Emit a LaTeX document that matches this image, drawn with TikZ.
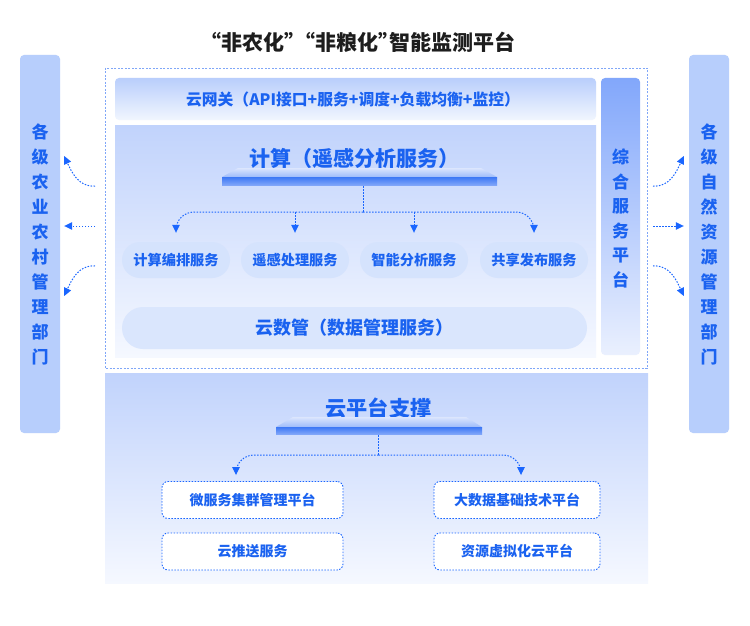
\documentclass[tikz,border=0pt]{standalone}
\usepackage{fontspec}
\setmainfont{Noto Sans CJK SC}
\usetikzlibrary{arrows.meta,calc}
\definecolor{tblue}{HTML}{1A62F0}
\definecolor{abl}{HTML}{1A66FF}
\definecolor{barc}{HTML}{B7CEFC}
\definecolor{pillc}{HTML}{D5E3FD}
\definecolor{pillb}{HTML}{DAE6FD}
\definecolor{titc}{HTML}{1D1D1D}
\definecolor{regtop}{HTML}{C1D3FC}
\definecolor{regbot}{HTML}{F5F8FF}
\definecolor{gwtop}{HTML}{B9CEFC}
\definecolor{gwbot}{HTML}{F1F6FE}
\definecolor{zhtop}{HTML}{82A7FB}
\definecolor{zhbot}{HTML}{EAF0FE}
\definecolor{boxline}{HTML}{7FA6F8}
\definecolor{trlight}{HTML}{DCE6FD}
\definecolor{trmid}{HTML}{9DBBFB}
\definecolor{trdtop}{HTML}{3D78F5}
\definecolor{trdbot}{HTML}{7FA5F9}
\tikzset{
  sidebar/.style={fill=barc, rounded corners=4pt, minimum width=40pt, minimum height=378pt, inner sep=0pt,
    text=tblue, font=\bfseries\fontsize{17}{25}\selectfont, align=center},
  pill/.style={fill=pillc, rounded corners=18pt, minimum height=36pt, minimum width=108pt, inner sep=0pt,
    text=tblue, font=\bfseries\fontsize{14.2}{15}\selectfont},
  dbox/.style={fill=white, draw=abl, line width=0.9pt, dash pattern=on 1.5pt off 1.5pt, rounded corners=6pt,
    minimum height=37pt, inner sep=0pt, text=tblue, font=\bfseries\fontsize{14}{15}\selectfont},
  conn/.style={draw=abl, line width=1pt, dash pattern=on 1.5pt off 1.5pt},
  tipd/.style={-{Triangle[length=8pt,width=7.5pt]}},
}
\begin{document}
\begin{tikzpicture}[x=1pt,y=-1pt]
\useasboundingbox (0,0) rectangle (750,626);
\fill[white] (0,0) rectangle (750,626);

% title
\node[text=titc, font=\bfseries\fontsize{21}{22}\selectfont, inner sep=0pt] (title) at (363,42) {\kern-0.45em“非农化”\kern-0.55em“非粮化”\kern-0.45em智能监测平台};

% side bars
\node[sidebar] (left) at (40,244) {各\\级\\农\\业\\农\\村\\管\\理\\部\\门};
\node[sidebar] (right) at (709,244) {各\\级\\自\\然\\资\\源\\管\\理\\部\\门};

% upper region backgrounds
\shade[top color=regtop, bottom color=regbot] (115,125) rectangle (596,357);
\shade[rounded corners=4pt, top color=gwtop, bottom color=gwbot] (115,78) rectangle (596,120);
\shade[rounded corners=4pt, top color=zhtop, bottom color=zhbot] (601,78) rectangle (640,355);
\draw[draw=boxline, line width=0.6pt, dash pattern=on 2pt off 1.5pt] (105,68) rectangle (647,368);

\node[text=tblue, font=\bfseries\fontsize{15.8}{16}\selectfont] (gw) at (353,100) {云网关（API接口+服务+调度+负载均衡+监控）};
\node[text=tblue, font=\bfseries\fontsize{17}{24.6}\selectfont, align=center] (zh) at (620.5,218.5) {综\\合\\服\\务\\平\\台};

% compute heading + platform
\node[text=tblue, font=\bfseries\fontsize{21}{22}\selectfont] (comp) at (354,158) {计算（遥感分析服务）};
\shade[top color=trlight, bottom color=trmid] (238,168) -- (481,168) -- (497,177) -- (222,177) -- cycle;
\shade[top color=trdtop, bottom color=trdbot] (222,177) rectangle (497,185);
\coordinate (cplat) at (363,186);
\coordinate (cj) at (363,212);

% service pills
\node[pill] (s1) at (176,260) {计算编排服务};
\node[pill] (s2) at (295,260) {遥感处理服务};
\node[pill] (s3) at (414,260) {智能分析服务};
\node[pill] (s4) at (534,260) {共享发布服务};
\node[pill, fill=pillb, minimum width=465pt, minimum height=42pt, rounded corners=21pt, font=\bfseries\fontsize{18}{19}\selectfont] (dm) at (354.5,328) {云数管（数据管理服务）};

\draw[conn] (cplat) -- (cj);
\draw[conn, tipd, rounded corners=18pt] (cj) -| ($(s1.north)+(0,-9)$);
\draw[conn, tipd, rounded corners=18pt] (cj) -| ($(s4.north)+(0,-9)$);
\draw[conn, tipd] (s2.north |- cj) -- ($(s2.north)+(0,-9)$);
\draw[conn, tipd] (s3.north |- cj) -- ($(s3.north)+(0,-9)$);

% lower region
\shade[top color=regtop, bottom color=regbot] (105,373) rectangle (648,583);
\node[text=tblue, font=\bfseries\fontsize{21.2}{22}\selectfont] (cs) at (378.5,408) {云平台支撑};
\shade[top color=trlight, bottom color=trmid] (293,417) -- (466,417) -- (482,427) -- (276,427) -- cycle;
\shade[top color=trdtop, bottom color=trdbot] (276,427) rectangle (482,434);
\coordinate (lplat) at (378.5,435);
\coordinate (lj) at (378.5,455);

\node[dbox, minimum width=181pt] (b1) at (252.5,500) {微服务集群管理平台};
\node[dbox, minimum width=181pt] (b2) at (252.5,551.5) {云推送服务};
\node[dbox, minimum width=166pt] (b3) at (517,500) {大数据基础技术平台};
\node[dbox, minimum width=166pt] (b4) at (517,551.5) {资源虚拟化云平台};

\draw[conn] (lplat) -- (lj);
\draw[conn, tipd, rounded corners=18pt] (lj) -| ($(b1.north -| 236,0)+(0,-6)$);
\draw[conn, tipd, rounded corners=18pt] (lj) -| ($(b3.north -| 521,0)+(0,-6)$);

% side arrows
\coordinate (la1) at (95,186);
\coordinate (la2) at (95,226);
\coordinate (la3) at (95,266);
\coordinate (ra1) at (653,186);
\coordinate (ra2) at (653,226);
\coordinate (ra3) at (653,266);
\draw[conn, tipd] (la1) to[out=185, in=-65] ($(left.east |- la1)+(4,-30)$);
\draw[conn, tipd] (la2) -- ($(left.east |- la2)+(4,0)$);
\draw[conn, tipd] (la3) to[out=175, in=65] ($(left.east |- la3)+(4,30)$);
\draw[conn, tipd] (ra1) to[out=-5, in=-115] ($(right.west |- ra1)+(-5,-30)$);
\draw[conn, tipd] (ra2) -- ($(right.west |- ra2)+(-5,0)$);
\draw[conn, tipd] (ra3) to[out=5, in=115] ($(right.west |- ra3)+(-5,30)$);
\end{tikzpicture}
\end{document}
